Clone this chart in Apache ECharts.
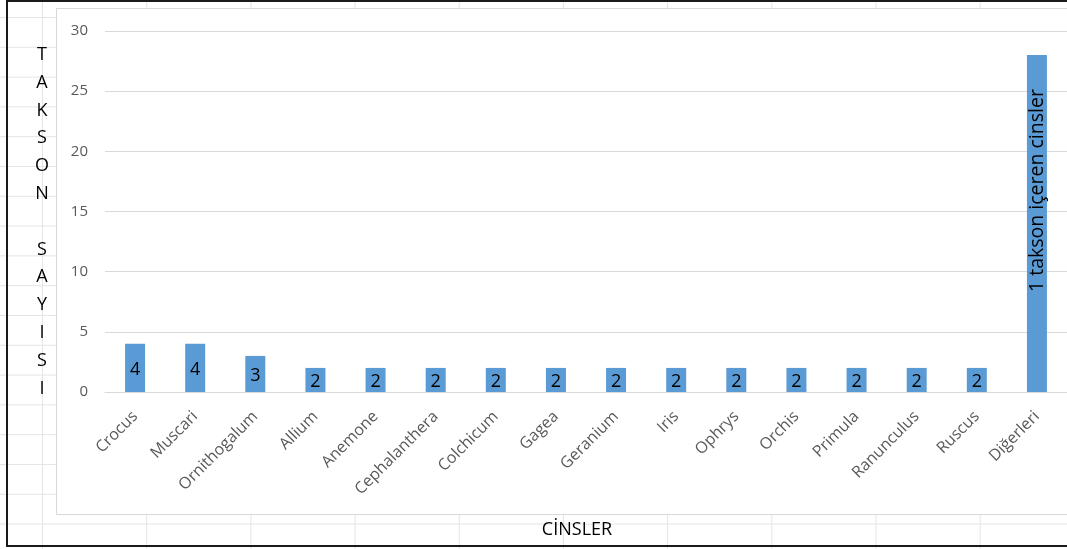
<!DOCTYPE html>
<html>
<head>
<meta charset="utf-8">
<script src="https://cdn.jsdelivr.net/npm/echarts@6/dist/echarts.min.js"></script>
<style>
  html, body { margin: 0; padding: 0; width: 1067px; height: 549px; overflow: hidden; background: #fff; }
  #sheet {
    position: absolute; left: 0; top: 0; width: 1067px; height: 549px;
    background-image:
      linear-gradient(to right, #e4e4e4 1px, transparent 1px),
      linear-gradient(to bottom, #e4e4e4 1px, transparent 1px);
    background-size: 104.2px 29.8px;
    background-position: 42px 17px;
  }
  #frame {
    position: absolute; left: 6px; top: 0; width: 1070px; height: 547px;
    border-left: 2px solid #1a1a1a; border-top: 2px solid #1a1a1a; border-bottom: 2px solid #1a1a1a;
    box-sizing: border-box;
  }
  #plotbg {
    position: absolute; left: 56px; top: 8px; width: 1030px; height: 507px;
    background: #fff; border: 1px solid #d9d9d9; box-sizing: border-box;
  }
  #chart { position: absolute; left: 0; top: 0; width: 1067px; height: 549px; }
</style>
</head>
<body>
<div id="sheet"></div>
<div id="frame"></div>
<div id="plotbg"></div>
<div id="chart"></div>
<script>
const categories = ['Crocus', 'Muscari', 'Ornithogalum', 'Allium', 'Anemone', 'Cephalanthera', 'Colchicum', 'Gagea', 'Geranium', 'Iris', 'Ophrys', 'Orchis', 'Primula', 'Ranunculus', 'Ruscus', 'Diğerleri'];
const values = [4, 4, 3, 2, 2, 2, 2, 2, 2, 2, 2, 2, 2, 2, 2, 28];
const yTicks = [0, 5, 10, 15, 20, 25, 30];
const othersLabel = '1 takson içeren cinsler';
const xTitle = 'CİNSLER';
const yTitle = 'TAKSON SAYISI';

const font = '"Open Sans", "Noto Sans", sans-serif';
const chart = echarts.init(document.getElementById('chart'), null, { renderer: 'canvas' });

const seriesData = values.map((v, i) => {
  if (categories[i] === 'Diğerleri') {
    return {
      value: v,
      label: { show: true, position: 'inside', rotate: 90, formatter: othersLabel, offset: [33, 0], fontSize: 19.5 }
    };
  }
  return v;
});

chart.setOption({
  backgroundColor: 'transparent',
  animation: false,
  textStyle: { fontFamily: font },
  title: [
    {
      text: xTitle, left: 572, top: 516, textAlign: 'center',
      textStyle: { fontFamily: font, fontSize: 18, fontWeight: 'normal', color: '#000' }
    },
    {
      text: yTitle.split('').map(c => c === ' ' ? '' : c).join('\n'),
      left: 37, top: 36, textAlign: 'center',
      textStyle: { fontFamily: font, fontSize: 18, fontWeight: 'normal', color: '#000', lineHeight: 27.8 }
    }
  ],
  grid: { left: 105, right: -3, top: 31, bottom: 157, containLabel: false },
  xAxis: {
    type: 'category',
    data: categories,
    axisLine: { show: true, lineStyle: { color: '#d9d9d9', width: 1 } },
    axisTick: { show: false },
    axisLabel: { interval: 0, rotate: 45, color: '#595959', fontSize: 16, fontFamily: font, margin: 22 }
  },
  yAxis: {
    type: 'value',
    min: yTicks[0], max: yTicks[yTicks.length - 1], interval: 5,
    axisLine: { show: false },
    axisTick: { show: false },
    axisLabel: { color: '#595959', fontSize: 15, fontFamily: font, margin: 17 },
    splitLine: { lineStyle: { color: '#d9d9d9', width: 1 } }
  },
  series: [{
    type: 'bar',
    data: seriesData,
    barWidth: 20,
    itemStyle: { color: '#5b9bd5' },
    label: { show: true, position: 'inside', color: '#000', fontSize: 18, fontFamily: font, offset: [0, 2] }
  }]
});
</script>
</body>
</html>
